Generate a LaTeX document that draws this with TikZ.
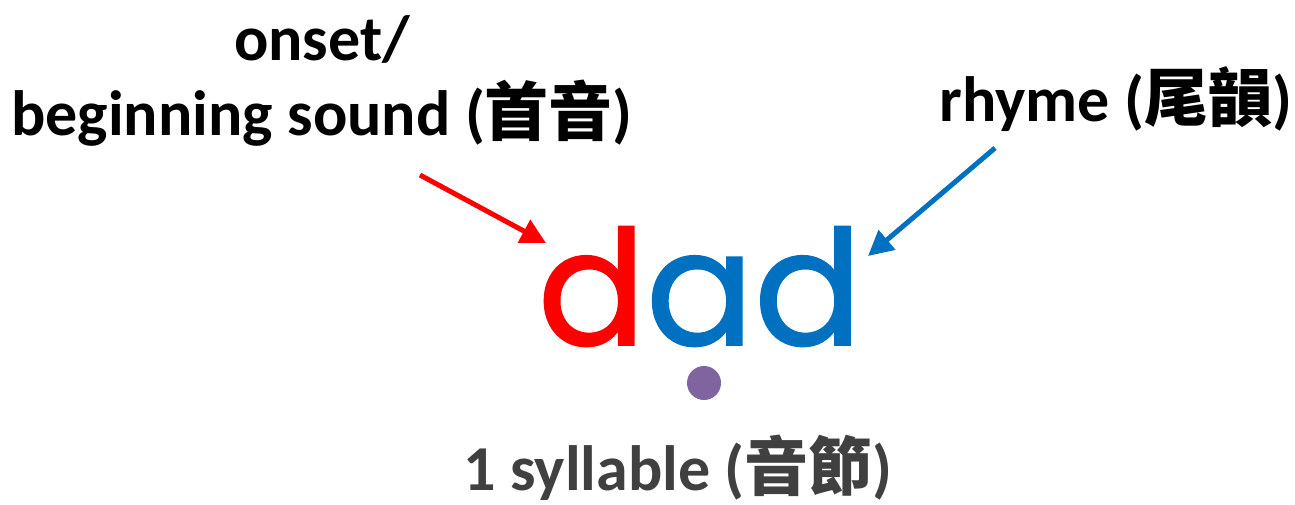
\documentclass[tikz,border=0pt]{standalone}
\usepackage{fontspec}
\setmainfont{Carlito}
\newfontfamily\cjk{Noto Sans CJK TC}
\newfontfamily\pop[FakeBold=1.2]{Poppins}
\usetikzlibrary{arrows.meta}
\definecolor{onsetred}{HTML}{FF0000}
\definecolor{rhymeblue}{HTML}{0070C0}
\definecolor{dotpurple}{HTML}{8064A2}
\definecolor{textgray}{HTML}{404040}
\begin{document}
\begin{tikzpicture}[x=1pt,y=1pt,
  lbl/.style={font=\bfseries\fontsize{64}{64}\selectfont, inner sep=0pt, anchor=base},
  pointer/.style={line width=5pt, -{Triangle[length=25pt,width=25pt]}}]
\useasboundingbox (0,0) rectangle (1295,-504);
\node[lbl] (onset) at (322,-60) {onset/};
\node[lbl] (begin) at (322,-135) {beginning sound ({\cjk\bfseries 首音})};
\node[lbl] (rhyme) at (1116,-121) {rhyme ({\cjk\bfseries 尾韻})};
\node[lbl, text=textgray] (syll) at (678,-490) {1 syllable ({\cjk\bfseries 音節})};
\node[anchor=base, inner sep=0pt, font=\pop\fontsize{160}{160}\selectfont] (dad) at (700,-345) {\textcolor{onsetred}{d}\textcolor{rhymeblue}{ad}};
\fill[dotpurple] (704,-383) circle (17) node (dot) {};
\coordinate (redstart) at (420,-175);
\coordinate (redend) at (546,-243);
\coordinate (bluestart) at (995,-148);
\coordinate (blueend) at (868,-256);
\draw[pointer, onsetred] (redstart) -- (redend);
\draw[pointer, rhymeblue] (bluestart) -- (blueend);
\end{tikzpicture}
\end{document}
